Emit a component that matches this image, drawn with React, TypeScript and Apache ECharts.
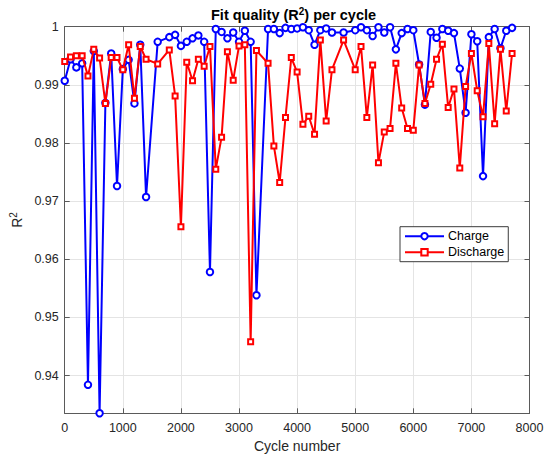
import React, { useEffect, useRef } from "react";
import * as echarts from "echarts";

const cycles = [
  0, 100, 200, 300, 400, 500, 600, 700, 800, 900, 1000, 1100, 1200, 1300, 1400,
  1600, 1800, 1900,
  2000, 2100, 2200, 2300, 2400, 2500, 2600, 2700, 2800, 2900, 3000, 3100, 3200, 3300,
  3500, 3600, 3700, 3800, 3900, 4000, 4100, 4200, 4300, 4400, 4500, 4600,
  4800,
  5000, 5100, 5200, 5300, 5400, 5500, 5600, 5700, 5800, 5900, 6000, 6100, 6200, 6300,
  6400, 6500, 6600, 6700, 6800, 6900, 7000, 7100, 7200, 7300, 7400, 7500, 7600, 7700,
];

const charge = [
  0.9907, 0.9944, 0.993, 0.9937, 0.9384, 0.9958, 0.9335, 0.9869, 0.9954, 0.9726, 0.9927, 0.9943, 0.9868, 0.9969, 0.9707,
  0.9974, 0.9982, 0.9986,
  0.9967, 0.9974, 0.998, 0.9985, 0.9974, 0.9578, 0.9996, 0.9991, 0.998, 0.999, 0.9974, 0.9993, 0.9974, 0.9538,
  0.9996, 0.9996, 0.9989, 0.9998, 0.9996, 0.9997, 0.9999, 0.9994, 0.9969, 0.9994, 0.9997, 0.999,
  0.999,
  0.9994, 0.9999, 0.9994, 0.9984, 0.9999, 0.999, 0.9999, 0.9961, 0.9989, 0.9996, 0.9994, 0.9935, 0.9866, 0.9991,
  0.9981, 0.9996, 0.9993, 0.9989, 0.9928, 0.9852, 0.9987, 0.9975, 0.9743, 0.9982, 0.9996, 0.9963, 0.9993, 0.9998,
];

const discharge = [
  0.994, 0.9948, 0.995, 0.995, 0.9915, 0.9961, 0.9946, 0.9868, 0.9947, 0.9947, 0.9926, 0.9969, 0.9877, 0.9966, 0.9944,
  0.9936, 0.996, 0.9881,
  0.9656, 0.9939, 0.9907, 0.9944, 0.9932, 0.9966, 0.9755, 0.981, 0.9957, 0.9908, 0.9967, 0.9969, 0.9458, 0.9959,
  0.9937, 0.9795, 0.9732, 0.9844, 0.9947, 0.9922, 0.9832, 0.9846, 0.9815, 0.9977, 0.9838, 0.9926,
  0.9977,
  0.9926, 0.9966, 0.9844, 0.9934, 0.9766, 0.9819, 0.9825, 0.9937, 0.986, 0.9825, 0.9822, 0.9934, 0.9868, 0.9901,
  0.9944, 0.997, 0.9861, 0.9893, 0.9757, 0.9897, 0.9954, 0.989, 0.9845, 0.9971, 0.9833, 0.9961, 0.9855, 0.9954,
];

const X_MIN = 0;
const X_MAX = 8000.001;
const X_STEP = 1000;
const Y_MIN = 0.9335;
const Y_MAX = 1;

const FONT = "Liberation Sans, Arial, Helvetica, sans-serif";
const TXT = "#262626";
const AXIS = "#5a5a5a";
const GRID = "#e4e4e4";

export default function App() {
  const ref = useRef<HTMLDivElement>(null);

  useEffect(() => {
    if (!ref.current) return;
    const chart = echarts.init(ref.current, undefined, { renderer: "svg" });

    const pairs = (ys: number[]) => cycles.map((c, i) => [c, ys[i]]);

    const baseX = {
      type: "value" as const,
      min: X_MIN,
      max: X_MAX,
      interval: X_STEP,
      axisLine: { show: true, onZero: false, lineStyle: { color: AXIS, width: 1 } },
      axisTick: { show: true, inside: true, length: 5, lineStyle: { color: AXIS } },
    };
    const baseY = {
      type: "value" as const,
      min: Y_MIN,
      max: Y_MAX,
      splitNumber: 5,
      axisLine: { show: true, onZero: false, lineStyle: { color: AXIS, width: 1 } },
      axisTick: { show: true, inside: true, length: 5, lineStyle: { color: AXIS } },
    };

    chart.setOption({
      animation: false,
      backgroundColor: "#ffffff",
      title: {
        text: "{a|Fit quality (R}{s|2}{a|) per cycle}",
        left: 211,
        top: 6,
        padding: 0,
        textStyle: {
          fontFamily: FONT,
          fontSize: 14.5,
          fontWeight: "bold",
          color: "#000",
          rich: {
            a: { fontFamily: FONT, fontSize: 14.5, fontWeight: "bold", color: "#000", lineHeight: 18 },
            s: { fontFamily: FONT, fontSize: 10, fontWeight: "bold", color: "#000", verticalAlign: "top", lineHeight: 10 },
          },
        },
      },
      grid: { left: 60.5, right: 20.5, top: 26.7, bottom: 47.7, containLabel: false },
      legend: {
        orient: "vertical",
        left: 400,
        top: 226.7,
        backgroundColor: "#fff",
        borderColor: "#3a3a3a",
        borderWidth: 1,
        borderRadius: 0,
        padding: [2, 4, 2, 4],
        itemGap: 1,
        itemWidth: 39,
        itemHeight: 8,
        textStyle: { fontFamily: FONT, fontSize: 12.5, color: "#000", padding: [0, 0, 0, -1], lineHeight: 15 },
        data: ["Charge", "Discharge"],
      },
      xAxis: [
        {
          ...baseX,
          position: "bottom",
          name: "Cycle number",
          nameLocation: "middle",
          nameGap: 24,
          nameTextStyle: { fontFamily: FONT, fontSize: 14, color: TXT },
          axisLabel: {
            fontFamily: FONT,
            fontSize: 12.5,
            color: TXT,
            margin: 8,
            showMaxLabel: false,
            formatter: (v: number) => String(Math.round(v)),
          },
          splitLine: { show: true, lineStyle: { color: GRID, width: 1 } },
        },
        {
          ...baseX,
          position: "top",
          axisLabel: { show: false },
          splitLine: { show: false },
        },
      ],
      yAxis: [
        {
          ...baseY,
          position: "left",
          name: "{a|R}{s|2}",
          nameLocation: "middle",
          nameRotate: 90,
          nameGap: 38,
          nameTextStyle: {
            fontFamily: FONT,
            fontSize: 14,
            color: TXT,
            rich: {
              a: { fontFamily: FONT, fontSize: 14, color: TXT, lineHeight: 17 },
              s: { fontFamily: FONT, fontSize: 10, color: TXT, verticalAlign: "top", lineHeight: 10 },
            },
          },
          axisLabel: { fontFamily: FONT, fontSize: 12.5, color: TXT, margin: 6, showMinLabel: false },
          splitLine: { show: true, lineStyle: { color: GRID, width: 1 } },
        },
        {
          ...baseY,
          position: "right",
          axisLabel: { show: false },
          splitLine: { show: false },
        },
      ],
      series: [
        {
          name: "Charge",
          type: "line",
          xAxisIndex: 0,
          yAxisIndex: 0,
          data: pairs(charge),
          symbol: "emptyCircle",
          symbolSize: 6.5,
          color: "#0000ff",
          lineStyle: { color: "#0000ff", width: 2 },
          itemStyle: { color: "#0000ff", borderColor: "#0000ff", borderWidth: 1.5 },
          z: 2,
        },
        {
          name: "Discharge",
          type: "line",
          xAxisIndex: 0,
          yAxisIndex: 0,
          data: pairs(discharge),
          symbol: "emptyRect",
          symbolSize: 5,
          color: "#ff0000",
          lineStyle: { color: "#ff0000", width: 2 },
          itemStyle: { color: "#ff0000", borderColor: "#ff0000", borderWidth: 1.5 },
          z: 3,
        },
      ],
    });

    return () => chart.dispose();
  }, []);

  return (
    <div
      ref={ref}
      style={{ position: "fixed", left: 0, top: 0, width: 550, height: 461, background: "#fff" }}
    />
  );
}
